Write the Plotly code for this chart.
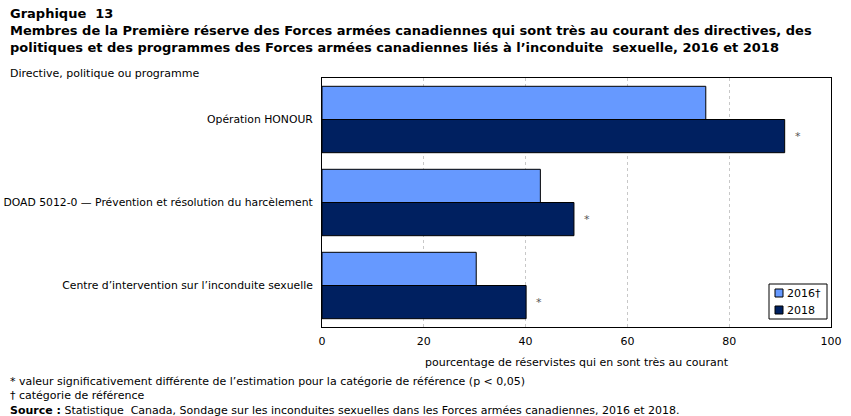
import plotly.graph_objects as go

categories = [
    "Opération HONOUR",
    "DOAD 5012-0 — Prévention et résolution du harcèlement",
    "Centre d’intervention sur l’inconduite sexuelle",
]
values_2016 = [75.4, 42.9, 30.3]
values_2018 = [90.9, 49.5, 40.1]
sig_2018 = ["*", "*", "*"]
series_names = ["2016†", "2018"]
series_colors = ["#6699FF", "#002060"]
x_ticks = [0, 20, 40, 60, 80, 100]

FONT = "DejaVu Sans, Verdana, sans-serif"
L, R, T, B = 322, 20, 78, 89
W, H = 851, 416
PW, PH = W - L - R, H - T - B

fig = go.Figure()
for name, vals, col in zip(series_names, [values_2016, values_2018], series_colors):
    fig.add_trace(go.Bar(
        y=categories, x=vals, orientation="h", name=name,
        marker=dict(color=col, line=dict(color="#000000", width=1)),
        showlegend=False,
    ))

# significance markers
for cat, v, s in zip(categories, values_2018, sig_2018):
    fig.add_annotation(
        x=v, y=cat, xref="x", yref="y", text=s, showarrow=False,
        xanchor="left", xshift=8, yshift=-17,
        font=dict(family=FONT, size=11, color="#555555"),
    )

fig.update_layout(
    template="none",
    width=W, height=H,
    margin=dict(l=L, r=R, t=T, b=B, autoexpand=False),
    paper_bgcolor="white", plot_bgcolor="white",
    barmode="group", bargap=0.2, bargroupgap=0,
    font=dict(family=FONT, size=11, color="#000000"),
    showlegend=False,
    xaxis=dict(
        range=[0, 100], tickvals=x_ticks, ticktext=[str(t) for t in x_ticks],
        showgrid=True, gridcolor="#C8C8C8", gridwidth=1, griddash="dot", automargin=False,
        zeroline=False, showline=True, linecolor="#000000", linewidth=1,
        mirror=True, ticks="", ticklabelstandoff=4, tickfont=dict(family=FONT, size=11),
        title=dict(text="pourcentage de réservistes qui en sont très au courant",
                   font=dict(family=FONT, size=11), standoff=11),
    ),
    yaxis=dict(
        autorange="reversed", showgrid=False, zeroline=False, automargin=False,
        showline=True, linecolor="#000000", linewidth=1, mirror=True,
        ticks="", ticklabelstandoff=6, tickfont=dict(family=FONT, size=10.8),
    ),
)

# custom legend (box + swatches + labels), positioned in pixels
def px_x(px):
    return (px - L) / PW

def px_y(py):
    return (H - B - py) / PH

fig.add_shape(type="rect", xref="paper", yref="paper",
              x0=px_x(769), x1=px_x(827), y0=px_y(319), y1=px_y(284),
              line=dict(color="#000000", width=1), fillcolor="white", layer="above")
for i, (name, col) in enumerate(zip(series_names, series_colors)):
    cy = 293 + i * 17
    fig.add_shape(type="rect", xref="paper", yref="paper",
                  x0=px_x(775), x1=px_x(783), y0=px_y(cy + 4), y1=px_y(cy - 4),
                  line=dict(color="#000000", width=1), fillcolor=col, layer="above")
    fig.add_annotation(x=px_x(785), y=px_y(cy), xref="paper", yref="paper",
                       xanchor="left", yanchor="middle", text=name, showarrow=False,
                       font=dict(family=FONT, size=11))

# Titles and notes
fig.add_annotation(x=0, y=1, xref="paper", yref="paper", xanchor="left", yanchor="top",
                   text="<b>Graphique  13</b>", showarrow=False, xshift=-L + 8, yshift=T - 4,
                   font=dict(family=FONT, size=13))
fig.add_annotation(x=0, y=1, xref="paper", yref="paper", xanchor="left", yanchor="top", align="left",
                   text="<b>Membres de la Première réserve des Forces armées canadiennes qui sont très au courant des directives, des</b><br>"
                        "<b>politiques et des programmes des Forces armées canadiennes liés à l’inconduite  sexuelle, 2016 et 2018</b>",
                   showarrow=False, xshift=-L + 8, yshift=T - 21,
                   font=dict(family=FONT, size=13))
fig.add_annotation(x=0, y=1, xref="paper", yref="paper", xanchor="left", yanchor="top",
                   text="Directive, politique ou programme", showarrow=False,
                   xshift=-L + 8, yshift=T - 65, font=dict(family=FONT, size=11))
fig.add_annotation(x=0, y=0, xref="paper", yref="paper", xanchor="left", yanchor="top", align="left",
                   text="* valeur significativement différente de l’estimation pour la catégorie de référence (p < 0,05)<br>"
                        "† catégorie de référence<br>"
                        "<b>Source :</b> Statistique  Canada, Sondage sur les inconduites sexuelles dans les Forces armées canadiennes, 2016 et 2018.",
                   showarrow=False, xshift=-L + 8, yshift=-(373 - 327),
                   font=dict(family=FONT, size=11))

fig.write_html("out.html")
